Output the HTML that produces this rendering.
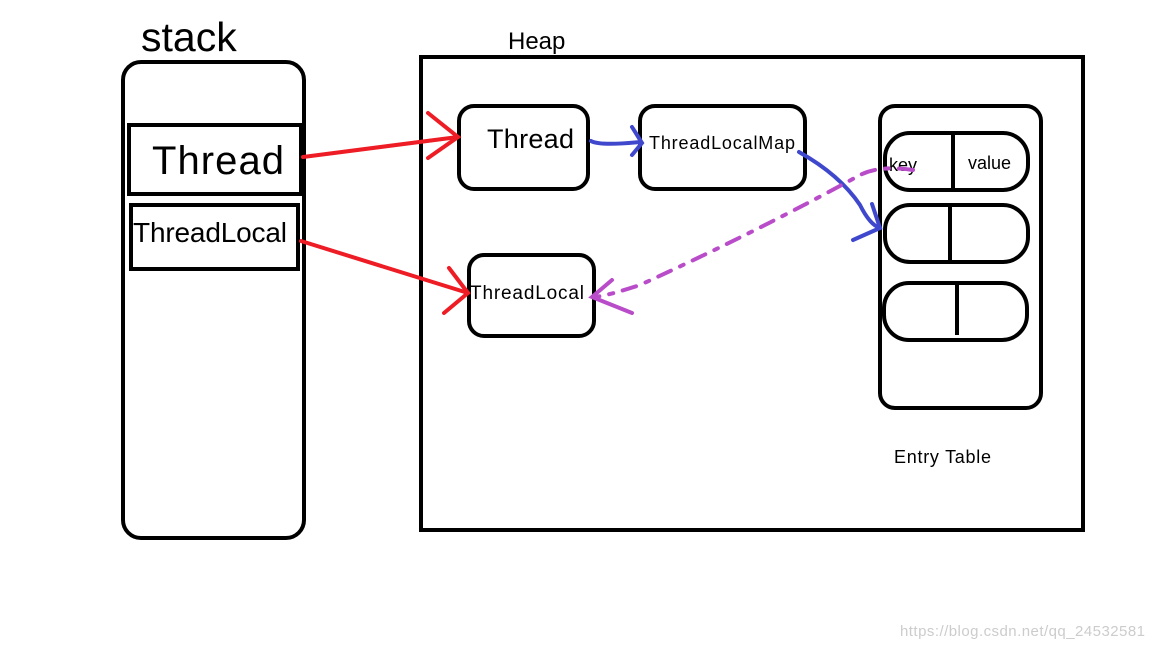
<!DOCTYPE html>
<html><head><style>html,body{margin:0;padding:0;background:#fff;}svg{display:block}</style></head>
<body>
<svg width="1152" height="648" viewBox="0 0 1152 648" xmlns="http://www.w3.org/2000/svg" font-family="'Liberation Sans', sans-serif">
<rect width="1152" height="648" fill="#fff"/>
<text x="141" y="51" font-size="41">stack</text>
<rect x="123" y="62" width="181" height="476" rx="18" fill="none" stroke="#000" stroke-width="4"/>
<rect x="129" y="125" width="172" height="69" fill="none" stroke="#000" stroke-width="4"/>
<text x="152" y="174" font-size="40" textLength="132">Thread</text>
<rect x="131" y="205" width="167" height="64" fill="none" stroke="#000" stroke-width="4"/>
<text x="133" y="242" font-size="28" textLength="154">ThreadLocal</text>
<text x="508" y="49" font-size="24">Heap</text>
<rect x="421" y="57" width="662" height="473" fill="none" stroke="#000" stroke-width="4"/>
<rect x="459" y="106" width="129" height="83" rx="15" fill="none" stroke="#000" stroke-width="4"/>
<text x="487" y="148" font-size="27" textLength="87">Thread</text>
<rect x="640" y="106" width="165" height="83" rx="15" fill="none" stroke="#000" stroke-width="4"/>
<text x="649" y="149" font-size="18" textLength="146">ThreadLocalMap</text>
<rect x="469" y="255" width="125" height="81" rx="15" fill="none" stroke="#000" stroke-width="4"/>
<text x="470" y="299" font-size="19" textLength="114">ThreadLocal</text>
<rect x="880" y="106" width="161" height="302" rx="15" fill="none" stroke="#000" stroke-width="4"/>
<rect x="885" y="133" width="143" height="57" rx="25" fill="none" stroke="#000" stroke-width="4"/>
<line x1="953" y1="135" x2="953" y2="190" stroke="#000" stroke-width="4"/>
<text x="889" y="171" font-size="18">key</text>
<text x="968" y="169" font-size="18">value</text>
<rect x="885" y="205" width="143" height="57" rx="25" fill="none" stroke="#000" stroke-width="4"/>
<line x1="950" y1="207" x2="950" y2="262" stroke="#000" stroke-width="4"/>
<rect x="884" y="283" width="143" height="57" rx="25" fill="none" stroke="#000" stroke-width="4"/>
<line x1="957" y1="285" x2="957" y2="335" stroke="#000" stroke-width="4"/>
<text x="894" y="463" font-size="18" textLength="97">Entry Table</text>
<g stroke="#ee1c24" stroke-width="4" fill="none" stroke-linecap="round">
<path d="M303 157 L458 137"/><path d="M428 113 L458 137 L428 158"/>
<path d="M301 241 L468 293"/><path d="M449 268 L468 293 L444 313"/>
</g>
<g stroke="#3f48cc" stroke-width="4" fill="none" stroke-linecap="round">
<path d="M591 141 Q600 146 640 142"/><path d="M632 127 L642 143 L632 155"/>
<path d="M799 152 Q840 175 860 205 Q870 225 880 228"/><path d="M872 204 L880 228 L853 240"/>
</g>
<g stroke="#b94cc9" stroke-width="4" fill="none" stroke-linecap="round">
<path d="M913 170 Q880 165 860 175 Q760 230 640 285 Q610 295 595 297" stroke-dasharray="14 10 4 10"/>
<path d="M612 280 L592 297 L632 313"/>
</g>
<text x="900" y="636" font-size="15" fill="#ccc" textLength="245">https://blog.csdn.net/qq_24532581</text>
</svg>
</body></html>
